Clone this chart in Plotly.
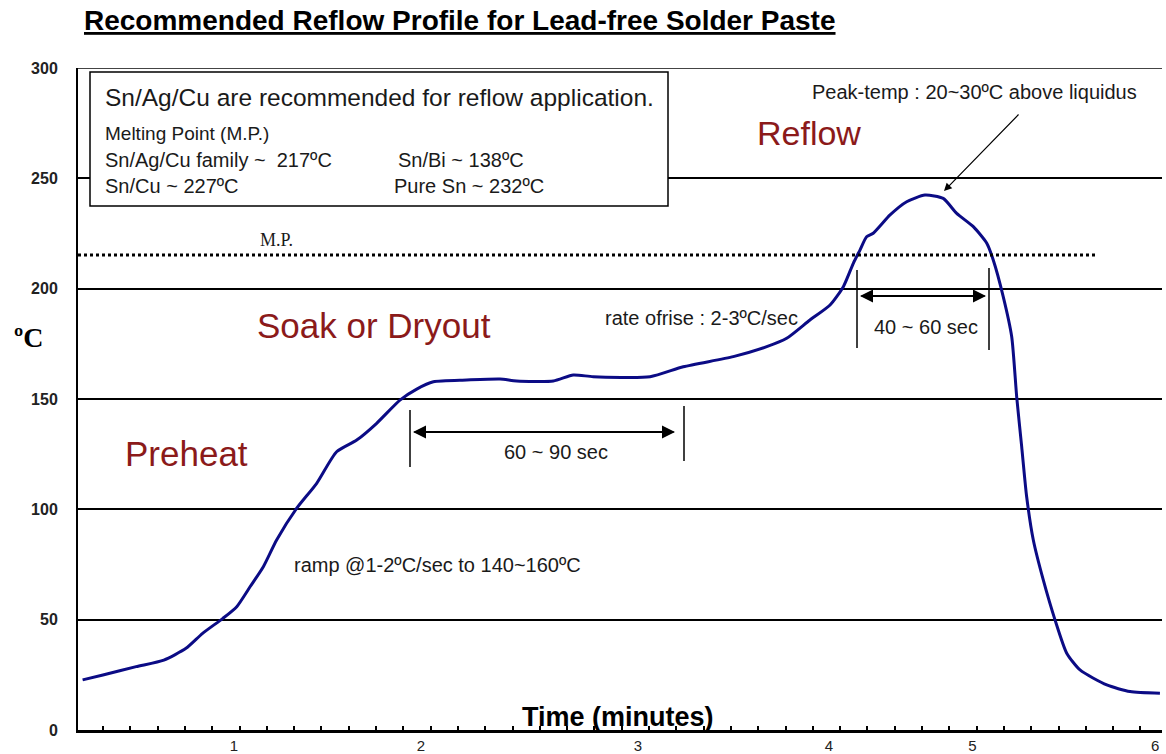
import plotly.graph_objects as go

# ---------------- data (time in minutes on the chart's own scale, temperature in degC) ----------------
time_min = [0.18, 0.29, 0.47, 0.62, 0.74, 0.83, 0.94, 1.015, 1.087, 1.159, 1.231, 1.34, 1.448, 1.556,
            1.665, 1.773, 1.899, 1.99, 2.08, 2.261, 2.441, 2.531, 2.73, 2.838, 2.946, 3.254, 3.434,
            3.705, 3.886, 3.994, 4.12, 4.229, 4.301, 4.355, 4.391, 4.427, 4.463, 4.554, 4.644, 4.743,
            4.842, 4.915, 5.005, 5.078, 5.113, 5.167, 5.213, 5.24, 5.267, 5.294, 5.33, 5.384, 5.448,
            5.511, 5.583, 5.728, 5.854, 6.016]
temp_c = [22.7, 24.9, 28.7, 31.7, 37.0, 43.8, 50.6, 55.9, 64.9, 74.0, 86.1, 100.5, 111.8, 126.1,
          131.4, 139.0, 149.5, 154.5, 157.8, 158.6, 159.1, 158.2, 158.2, 160.9, 160.1, 160.1, 164.6,
          169.2, 173.7, 177.5, 185.8, 192.6, 200.9, 211.5, 217.5, 223.5, 225.1, 233.4, 239.4, 242.4,
          240.9, 234.1, 228.1, 220.6, 213.0, 196.4, 178.2, 151.0, 128.4, 105.7, 86.1, 68.0, 49.8,
          34.8, 27.2, 20.4, 17.4, 16.6]

x_tick_positions = [1.0, 2.013, 3.188, 4.223, 5.0, 5.99]
x_tick_labels = ["1", "2", "3", "4", "5", "6"]
y_ticks = [0, 50, 100, 150, 200, 250, 300]
melting_point_line = 215.3

# ---------------- layout helpers (pixel -> axis units, for annotation placement only) ----------------
W, H = 1166, 754
L, R, T, B = 78, 4, 68, 24
X0, X1 = 0.155, 0.155 + (W - R - L) / 184.6
def X(px):
    return X0 + (px - L) / 184.6
def Y(py):
    return (H - B - py) * 300.0 / (H - B - T)

NARROW = "Liberation Sans Narrow, Arial Narrow, Liberation Sans, Arial"
SANS = "Liberation Sans, Arial"
DARKRED = "#8b1a1a"
TXT = "#1a1a1a"

fig = go.Figure()
fig.add_trace(go.Scatter(x=time_min, y=temp_c, mode="lines",
                         line=dict(color="#0b0b85", width=3, shape="spline", smoothing=0.6),
                         hoverinfo="skip", showlegend=False))

shapes = []
# M.P. dotted line
shapes.append(dict(type="line", xref="x", yref="y", x0=X0, x1=X(1097), y0=melting_point_line, y1=melting_point_line,
                   line=dict(color="black", width=3, dash="dot")))
# top border line
shapes.append(dict(type="line", xref="paper", yref="y", x0=0, x1=1, y0=300, y1=300,
                   line=dict(color="#444", width=2)))
# info box
shapes.append(dict(type="rect", xref="x", yref="y", x0=X(90), x1=X(668), y0=Y(72), y1=Y(206),
                   line=dict(color="black", width=1.5), fillcolor="white", layer="above"))
# 60~90 bracket
shapes.append(dict(type="line", x0=X(410), x1=X(410), y0=Y(467), y1=Y(410), line=dict(color="black", width=1.5)))
shapes.append(dict(type="line", x0=X(684), x1=X(684), y0=Y(461), y1=Y(406), line=dict(color="black", width=1.5)))
# 40~60 bracket
shapes.append(dict(type="line", x0=X(857), x1=X(857), y0=Y(348), y1=Y(270), line=dict(color="black", width=1.5)))
shapes.append(dict(type="line", x0=X(989), x1=X(989), y0=Y(350), y1=Y(268), line=dict(color="black", width=1.5)))

ann = []
def text(s, px, py, size, color=TXT, family=NARROW, xanchor="left", bold=False):
    ann.append(dict(text=("<b>%s</b>" % s) if bold else s, x=X(px), y=Y(py), xref="x", yref="y",
                    showarrow=False, xanchor=xanchor, yanchor="middle",
                    font=dict(size=size, color=color, family=family)))

def dbl_arrow(px0, px1, py):
    for a, b in ((px0, px1), (px1, px0)):
        ann.append(dict(x=X(b), y=Y(py), ax=X(a), ay=Y(py), xref="x", yref="y", axref="x", ayref="y",
                        text="", showarrow=True, arrowhead=2, arrowsize=1.3, arrowwidth=2, arrowcolor="black"))

dbl_arrow(413, 675, 432)
dbl_arrow(860, 986, 296)

# peak arrow
ann.append(dict(x=X(944), y=Y(191), ax=X(1020), ay=Y(113), xref="x", yref="y", axref="x", ayref="y",
                text="", showarrow=True, arrowhead=2, arrowsize=1.3, arrowwidth=1.2, arrowcolor="black"))

text("Sn/Ag/Cu are recommended for reflow application.", 103, 97, 24.5, family=SANS)
text("Melting Point (M.P.)", 103, 133, 19)
text("Sn/Ag/Cu family ~  217ºC", 103, 160, 20)
text("Sn/Bi ~ 138ºC", 396, 160, 20)
text("Sn/Cu ~ 227ºC", 103, 186, 20)
text("Pure Sn ~ 232ºC", 392, 186, 20)

text("Reflow", 755, 133, 34, color=DARKRED, family=SANS)
text("Soak or Dryout", 255, 325, 35, color=DARKRED, family=SANS)
text("Preheat", 123, 453, 35, color=DARKRED, family=SANS)

text("Peak-temp : 20~30ºC above liquidus", 810, 92, 20)
text("M.P.", 258, 240, 18, family="Liberation Serif, Times New Roman")
text("rate ofrise : 2-3ºC/sec", 603, 318, 20)
text("40 ~ 60 sec", 926, 327, 20, xanchor="center")
text("60 ~ 90 sec", 556, 452, 20, xanchor="center")
text("ramp @1-2ºC/sec to 140~160ºC", 292, 565, 20)
text("Time (minutes)", 618, 717, 27, color="black", xanchor="center", bold=True)

# title and y label (paper/pixel placement)
ann.append(dict(text="<b><u>Recommended Reflow Profile for Lead-free Solder Paste</u></b>",
                xref="paper", yref="paper", x=(82 - L) / (W - L - R), y=1 + (T - 21) / (H - T - B),
                xanchor="left", yanchor="middle", showarrow=False,
                font=dict(size=28, color="black", family=NARROW)))
ann.append(dict(text="<b>ºC</b>", xref="paper", yref="paper", x=(28 - L) / (W - L - R),
                y=(H - B - 337) / (H - T - B), xanchor="center", yanchor="middle", showarrow=False,
                font=dict(size=28, color="black", family="Liberation Serif, Times New Roman")))

fig.update_layout(
    width=W, height=H, margin=dict(l=L, r=R, t=T, b=B, autoexpand=False),
    paper_bgcolor="white", plot_bgcolor="white",
    shapes=shapes, annotations=ann, showlegend=False,
    xaxis=dict(range=[X0, X1], tickmode="array", tickvals=x_tick_positions, ticktext=x_tick_labels,
               showgrid=False, zeroline=False, showline=True, linecolor="black", linewidth=3,
               ticks="", ticklabelstandoff=0, automargin=False,
               tickfont=dict(size=15, color="#222", family=NARROW),
               minor=dict(tickmode="linear", tick0=X(103), dtick=27.3 / 184.6, ticks="inside",
                          ticklen=4, tickwidth=1.5, tickcolor="black", showgrid=False)),
    yaxis=dict(range=[0, 300], tickmode="array", tickvals=y_ticks, showgrid=True, gridcolor="black",
               gridwidth=1.5, zeroline=False, showline=True, linecolor="black", linewidth=2,
               ticks="", ticklabelstandoff=15, automargin=False,
               tickfont=dict(size=16, color="#222", family="Liberation Sans, Arial", weight="bold")),
)

fig.write_html("out.html", config={"displayModeBar": False},
               post_script="document.body.style.margin='0px';document.body.style.overflow='hidden';")
